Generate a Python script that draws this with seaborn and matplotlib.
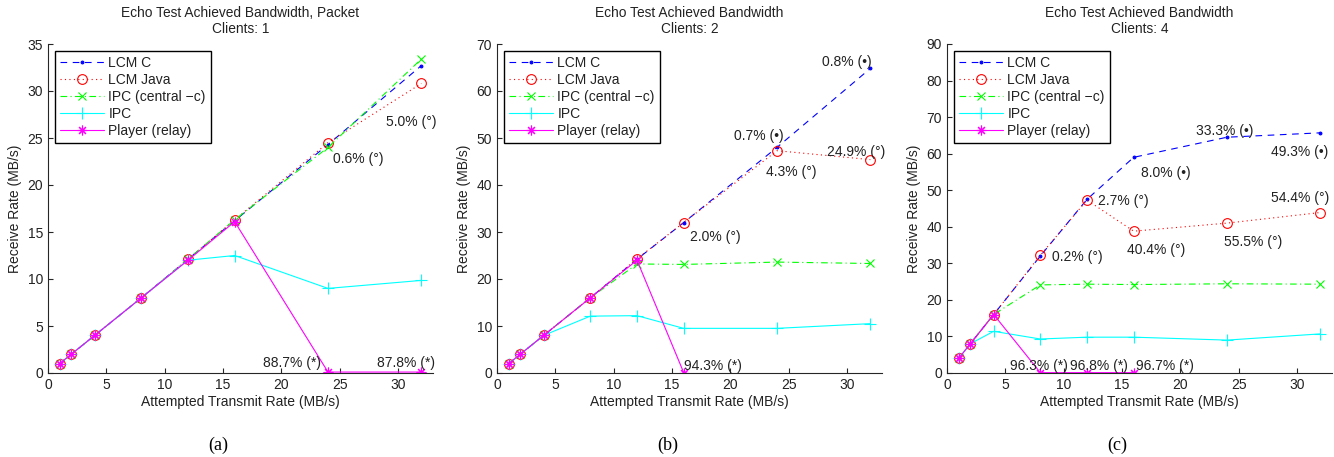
import pandas as pd
import matplotlib
matplotlib.use("Agg")
import matplotlib.pyplot as plt
import seaborn as sns

# Attempted transmit rate (MB/s)
rate = [1, 2, 4, 8, 12, 16, 24, 32]
clients = [1, 2, 4]
series_names = ["LCM C", "LCM Java", "IPC (central \u2212c)", "IPC", "Player (relay)"]

# Clients: 1
lcm_c_1 = [1, 2, 4, 8, 12.1, 16.2, 24.3, 32.7]
lcm_java_1 = [1, 2, 4, 8, 12.1, 16.3, 24.5, 30.8]
ipc_central_1 = [1, 2, 4, 8, 12.1, 16.3, 24.0, 33.4]
ipc_1 = [1, 2, 4, 8, 12.0, 12.5, 9.0, 9.85]
player_1 = [1, 2, 4, 8, 12.0, 16.1, 0.1, 0.1]

# Clients: 2
lcm_c_2 = [2, 4, 8, 16, 24.2, 32.0, 48.0, 64.8]
lcm_java_2 = [2, 4, 8, 16, 24.3, 32.0, 47.3, 45.4]
ipc_central_2 = [2, 4, 8, 16, 23.2, 23.1, 23.6, 23.3]
ipc_2 = [2, 4, 8, 12.1, 12.2, 9.5, 9.5, 10.5]
player_2 = [2, 4, 8, 16, 24.0, 0.1]

# Clients: 4
lcm_c_4 = [4, 8, 16, 32, 47.5, 59.0, 64.5, 65.7]
lcm_java_4 = [4, 8, 16, 32.2, 47.3, 38.8, 41.0, 43.9]
ipc_central_4 = [4, 8, 16, 24.1, 24.3, 24.2, 24.4, 24.3]
ipc_4 = [4, 8, 11.4, 9.3, 9.8, 9.8, 9.0, 10.7]
player_4 = [4, 8, 16, 0.1, 0.1, 0.1]

# loss annotations (text, x, y)
notes_1 = [("5.0% (\u00b0)", 29.0, 26.7), ("0.6% (\u00b0)", 24.4, 22.8),
           ("88.7% (*)", 18.4, 1.1), ("87.8% (*)", 28.2, 1.1)]
notes_2 = [("0.8% (\u2022)", 27.9, 66.2), ("0.7% (\u2022)", 20.3, 50.4),
           ("24.9% (\u00b0)", 28.3, 47.0), ("4.3% (\u00b0)", 23.1, 42.8),
           ("2.0% (\u00b0)", 16.5, 28.9), ("94.3% (*)", 16.0, 1.5)]
notes_4 = [("33.3% (\u2022)", 21.3, 66.2), ("49.3% (\u2022)", 27.8, 60.4),
           ("8.0% (\u2022)", 16.6, 54.7), ("2.7% (\u00b0)", 12.95, 47.0),
           ("54.4% (\u00b0)", 27.8, 47.9), ("0.2% (\u00b0)", 9.0, 31.8),
           ("40.4% (\u00b0)", 15.4, 33.6), ("55.5% (\u00b0)", 23.7, 35.8),
           ("96.3% (*)", 5.4, 1.9), ("96.8% (*)", 10.5, 1.9), ("96.7% (*)", 16.2, 1.9)]

titles = ["Echo Test Achieved Bandwidth, Packet\nClients: 1",
          "Echo Test Achieved Bandwidth\nClients: 2",
          "Echo Test Achieved Bandwidth\nClients: 4"]
y_max = [35, 70, 90]
y_step = [5, 10, 10]
sub_labels = ["(a)", "(b)", "(c)"]

panel_data = {
    1: [lcm_c_1, lcm_java_1, ipc_central_1, ipc_1, player_1],
    2: [lcm_c_2, lcm_java_2, ipc_central_2, ipc_2, player_2],
    4: [lcm_c_4, lcm_java_4, ipc_central_4, ipc_4, player_4],
}
panel_notes = {1: notes_1, 2: notes_2, 4: notes_4}

rows = []
for c in clients:
    for name, vals in zip(series_names, panel_data[c]):
        for x, y in zip(rate, vals):
            rows.append({"clients": c, "series": name, "rate": x, "recv": y})
df = pd.DataFrame(rows)

# matlab-like line specs: b--.  r:o  g-.x  c-+  m-*
styles = {
    "LCM C": dict(color=(0, 0, 1), linestyle=(0, (6, 5)), marker=".", markersize=4),
    "LCM Java": dict(color=(1, 0, 0), linestyle=(0, (1, 3)), marker="o", markersize=7,
                     markerfacecolor="none"),
    "IPC (central \u2212c)": dict(color=(0, 1, 0), linestyle=(0, (6, 3, 1, 3)), marker="x",
                                  markersize=6),
    "IPC": dict(color=(0, 1, 1), linestyle="-", marker="+", markersize=9),
    "Player (relay)": dict(color=(1, 0, 1), linestyle="-", marker=(8, 2, 0), markersize=7),
}

sns.set_style("ticks")
plt.rcParams["font.family"] = ["Liberation Sans", "DejaVu Sans"]
plt.rcParams.update({
    "xtick.direction": "in", "ytick.direction": "in",
    "axes.edgecolor": "#262626", "xtick.color": "#262626", "ytick.color": "#262626",
    "text.color": "#222222", "axes.labelcolor": "#222222",
    "xtick.labelcolor": "#222222", "ytick.labelcolor": "#222222",
    "font.size": 10,
})

fig = plt.figure(figsize=(13.34, 4.57), dpi=100)
lefts = [48, 497, 947]
for i, c in enumerate(clients):
    ax = fig.add_axes([lefts[i] / 1334, 84 / 457, 385 / 1334, 329 / 457])
    sub = df[df.clients == c]
    for name in series_names:
        st = styles[name]
        sns.lineplot(data=sub[sub.series == name], x="rate", y="recv", ax=ax,
                     errorbar=None, label=name, linewidth=0.8,
                     markeredgecolor=st["color"], markeredgewidth=0.8, **st)
    for txt, x, y in panel_notes[c]:
        ax.text(x, y, txt, ha="left", va="center", fontsize=10)
    ax.set_xlim(0, 33)
    ax.set_ylim(0, y_max[i])
    ax.set_xticks(range(0, 31, 5))
    ax.set_yticks(range(0, y_max[i] + 1, y_step[i]))
    ax.tick_params(labelsize=10, length=3.5, width=0.8)
    ax.set_xlabel("Attempted Transmit Rate (MB/s)", fontsize=10, labelpad=2)
    ax.set_ylabel("Receive Rate (MB/s)", fontsize=10, labelpad=4)
    ax.set_title(titles[i], fontsize=9.9, pad=8, linespacing=1.15)
    sns.despine(ax=ax)
    leg = ax.legend(loc="upper left", fontsize=10, handlelength=3.2, labelspacing=0.22,
                    borderpad=0.35, handletextpad=0.3, fancybox=False, framealpha=1,
                    edgecolor="black", borderaxespad=0.5)
    leg.get_frame().set_linewidth(1.0)
    pos = ax.get_position()
    fig.text(pos.x0 + pos.width / 2 - 22 / 1334, 12 / 457, sub_labels[i],
             family=["Liberation Serif", "DejaVu Serif"], fontsize=13,
             ha="center", va="center", color="black")

fig.savefig("out.png", dpi=100)
